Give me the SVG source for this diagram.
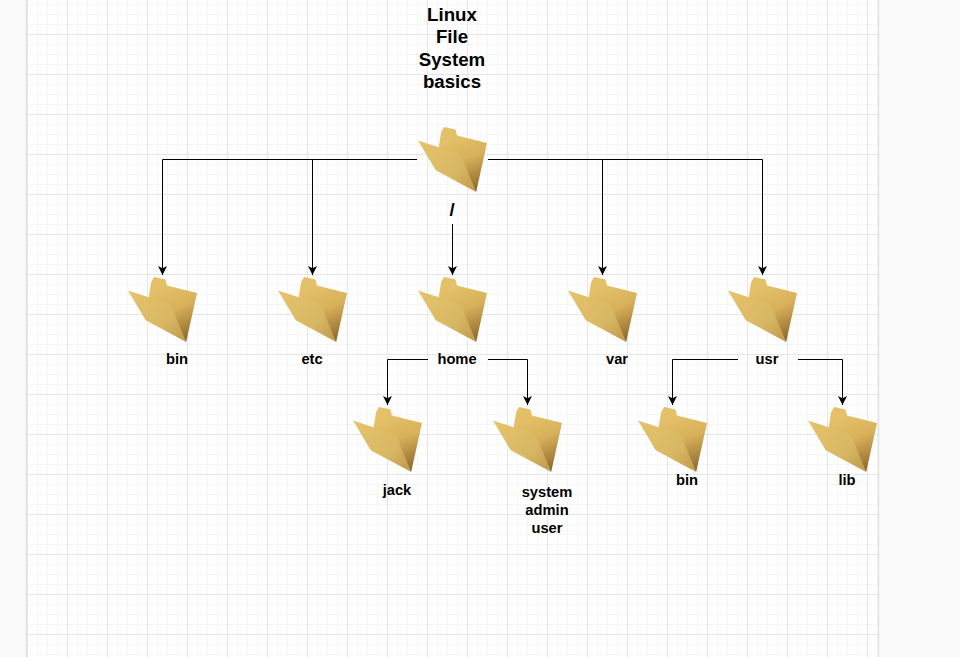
<svg xmlns="http://www.w3.org/2000/svg" width="960" height="657" viewBox="0 0 960 657">
<defs>
<pattern id="grid" x="27" y="-6" width="40" height="40" patternUnits="userSpaceOnUse">
<path d="M10.500 0V40M20.500 0V40M30.500 0V40M0 10.500H40M0 20.500H40M0 30.500H40" fill="none" stroke="#f6f6f6" stroke-width="1"/>
<path d="M0.500 0V40M0 0.500H40" fill="none" stroke="#e6e6e6" stroke-width="1"/>
</pattern>
<linearGradient id="back" x1="0.55" y1="0.1" x2="0.8" y2="1">
<stop offset="0" stop-color="#e4c068"/><stop offset="0.4" stop-color="#d8b05a"/><stop offset="0.75" stop-color="#ab843e"/><stop offset="1" stop-color="#86622a"/>
</linearGradient>
<linearGradient id="front" x1="0" y1="0" x2="1" y2="0.8">
<stop offset="0" stop-color="#e6c46c"/><stop offset="0.7" stop-color="#d8b764"/><stop offset="1" stop-color="#c49f50"/>
</linearGradient>
<symbol id="folder" width="69" height="66" viewBox="0 0 70 66" preserveAspectRatio="none" overflow="visible">
<path d="M21 20L23.500 5L26.500 0L38 2.500L39.500 8.500L70 16L59 65Z" fill="url(#back)"/>
<path d="M0 13.500L41 26.700Q44.500 28.500 46.500 35L59 65L18 43.300Z" fill="url(#front)"/>
</symbol>
<marker id="arrow" markerWidth="10" markerHeight="10" refX="9" refY="4.500" orient="auto" markerUnits="userSpaceOnUse">
<path d="M0 0L9 4.500L0 9L2.200 4.500Z" fill="#000"/>
</marker>
</defs>
<style>
.lbl{font-family:"Liberation Sans",Arial,sans-serif;font-weight:bold;font-size:14.7px;text-anchor:middle;fill:#000}
.ttl{font-family:"Liberation Sans",Arial,sans-serif;font-weight:bold;font-size:18.700px;text-anchor:middle;fill:#000}
.c{fill:none;stroke:#000;stroke-width:1;marker-end:url(#arrow)}
</style>
<rect width="960" height="657" fill="#fafafa"/>
<rect x="27" y="0" width="852" height="657" fill="#fff"/>
<rect x="27" y="0" width="852" height="657" fill="url(#grid)"/>
<path d="M26.500 0V657M878.500 0V657" stroke="#e2e2e2" stroke-width="1.500" fill="none"/>
<g id="connectors">
<path class="c" d="M417 159.500H162.500V275"/>
<path class="c" d="M417 159.500H312.500V275"/>
<path class="c" d="M488 159.500H762.500V275"/>
<path class="c" d="M488 159.500H602.500V275"/>
<path class="c" d="M452.500 224V275"/>
<path class="c" d="M428 359.500H387.500V405"/>
<path class="c" d="M488 359.500H527.500V405"/>
<path class="c" d="M738 359.500H672.500V405"/>
<path class="c" d="M798 359.500H842.500V405"/>
</g>
<g id="title"><text class="ttl" x="452" y="21">Linux</text><text class="ttl" x="452" y="43">File</text><text class="ttl" x="452" y="66">System</text><text class="ttl" x="452" y="88">basics</text></g>
<g id="root"><use href="#folder" x="418" y="127"/><text class="lbl" x="452" y="216" style="font-size:18.700px">/</text></g>
<g id="bin"><use href="#folder" x="128" y="277"/><text class="lbl" x="177" y="364">bin</text></g>
<g id="etc"><use href="#folder" x="278" y="277"/><text class="lbl" x="312" y="364">etc</text></g>
<g id="home"><use href="#folder" x="418" y="277"/><text class="lbl" x="457" y="364">home</text></g>
<g id="var"><use href="#folder" x="568" y="277"/><text class="lbl" x="617" y="364">var</text></g>
<g id="usr"><use href="#folder" x="728" y="277"/><text class="lbl" x="767" y="364">usr</text></g>
<g id="jack"><use href="#folder" x="353" y="407"/><text class="lbl" x="397" y="495">jack</text></g>
<g id="system-admin-user"><use href="#folder" x="493" y="407"/><text class="lbl" x="547" y="497">system</text><text class="lbl" x="547" y="515">admin</text><text class="lbl" x="547" y="533">user</text></g>
<g id="usr-bin"><use href="#folder" x="638" y="407"/><text class="lbl" x="687" y="485">bin</text></g>
<g id="lib"><use href="#folder" x="808" y="407"/><text class="lbl" x="847" y="485">lib</text></g>
</svg>
